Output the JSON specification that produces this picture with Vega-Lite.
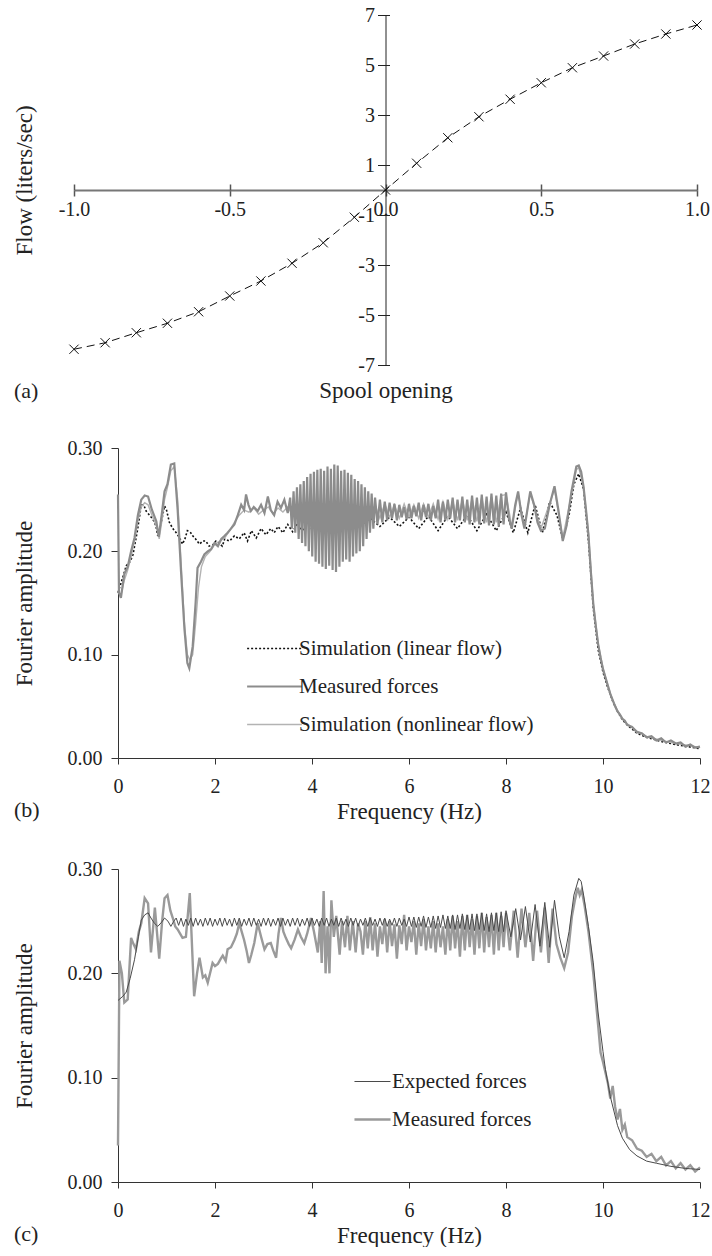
{
"$schema": "https://vega.github.io/schema/vega-lite/v6.json",
"background": "white",
"padding": {"left": 13, "top": 5, "right": 0, "bottom": 0},
"spacing": 36,
"resolve": {"scale": {"color": "independent", "strokeDash": "independent", "strokeWidth": "independent"}, "legend": {"color": "independent", "strokeDash": "independent", "strokeWidth": "independent"}},
"config": {
  "font": "Liberation Serif",
  "view": {"stroke": null},
  "axis": {"labelFont": "Liberation Serif", "titleFont": "Liberation Serif", "labelFontSize": 20, "titleFontSize": 23, "titleFontWeight": "normal", "labelColor": "#222", "titleColor": "#222", "domainColor": "#333", "tickColor": "#333", "grid": false, "labelFlush": false, "labelOverlap": false},
  "legend": {"labelFont": "Liberation Serif", "labelFontSize": 21, "labelColor": "#222", "labelLimit": 400},
  "title": {"font": "Liberation Serif", "fontSize": 22, "fontWeight": "normal", "color": "#222"}
},
"datasets": {
  "a": [{"s":-1,"q":-6.37},{"s":-0.9,"q":-6.11},{"s":-0.8,"q":-5.71},{"s":-0.7,"q":-5.33},{"s":-0.6,"q":-4.87},{"s":-0.5,"q":-4.24},{"s":-0.4,"q":-3.64},{"s":-0.3,"q":-2.93},{"s":-0.2,"q":-2.11},{"s":-0.1,"q":-1.09},{"s":0,"q":0},{"s":0.1,"q":1.07},{"s":0.2,"q":2.09},{"s":0.3,"q":2.93},{"s":0.4,"q":3.63},{"s":0.5,"q":4.29},{"s":0.6,"q":4.89},{"s":0.7,"q":5.36},{"s":0.8,"q":5.84},{"s":0.9,"q":6.24},{"s":1,"q":6.6}],
  "b": [
{"s":"L","f":0,"a":0.16},{"s":"L","f":0.1,"a":0.175},{"s":"L","f":0.17,"a":0.186},{"s":"L","f":0.25,"a":0.19},{"s":"L","f":0.31,"a":0.197},{"s":"L","f":0.4,"a":0.22},{"s":"L","f":0.48,"a":0.245},{"s":"L","f":0.53,"a":0.245},{"s":"L","f":0.58,"a":0.239},{"s":"L","f":0.65,"a":0.235},{"s":"L","f":0.72,"a":0.231},{"s":"L","f":0.78,"a":0.225},{"s":"L","f":0.82,"a":0.215},{"s":"L","f":0.88,"a":0.225},{"s":"L","f":0.96,"a":0.244},{"s":"L","f":1.0,"a":0.24},{"s":"L","f":1.06,"a":0.228},{"s":"L","f":1.13,"a":0.222},{"s":"L","f":1.2,"a":0.218},{"s":"L","f":1.27,"a":0.213},{"s":"L","f":1.33,"a":0.207},{"s":"L","f":1.38,"a":0.212},{"s":"L","f":1.43,"a":0.22},{"s":"L","f":1.5,"a":0.218},{"s":"L","f":1.54,"a":0.215},{"s":"L","f":1.6,"a":0.212},{"s":"L","f":1.68,"a":0.207},{"s":"L","f":1.75,"a":0.21},{"s":"L","f":1.81,"a":0.21},{"s":"L","f":1.88,"a":0.205},{"s":"L","f":1.95,"a":0.206},{"s":"L","f":2.02,"a":0.21},{"s":"L","f":2.08,"a":0.208},{"s":"L","f":2.15,"a":0.205},{"s":"L","f":2.2,"a":0.212},{"s":"L","f":2.3,"a":0.21},{"s":"L","f":2.4,"a":0.215},{"s":"L","f":2.5,"a":0.212},{"s":"L","f":2.6,"a":0.218},{"s":"L","f":2.67,"a":0.21},{"s":"L","f":2.75,"a":0.22},{"s":"L","f":2.85,"a":0.213},{"s":"L","f":2.95,"a":0.222},{"s":"L","f":3.05,"a":0.216},{"s":"L","f":3.15,"a":0.222},{"s":"L","f":3.22,"a":0.218},{"s":"L","f":3.3,"a":0.224},{"s":"L","f":3.4,"a":0.218},{"s":"L","f":3.5,"a":0.226},{"s":"L","f":3.6,"a":0.219},{"s":"L","f":3.7,"a":0.227},{"s":"L","f":3.8,"a":0.22},{"s":"L","f":3.9,"a":0.228},{"s":"L","f":4.0,"a":0.221},{"s":"L","f":4.1,"a":0.229},{"s":"L","f":4.2,"a":0.222},{"s":"L","f":4.3,"a":0.23},{"s":"L","f":4.4,"a":0.222},{"s":"L","f":4.5,"a":0.23},{"s":"L","f":4.6,"a":0.223},{"s":"L","f":4.7,"a":0.231},{"s":"L","f":4.8,"a":0.223},{"s":"L","f":4.9,"a":0.231},{"s":"L","f":5.0,"a":0.224},{"s":"L","f":5.2,"a":0.232},{"s":"L","f":5.4,"a":0.224},{"s":"L","f":5.6,"a":0.233},{"s":"L","f":5.8,"a":0.224},{"s":"L","f":6.0,"a":0.233},{"s":"L","f":6.2,"a":0.222},{"s":"L","f":6.4,"a":0.234},{"s":"L","f":6.6,"a":0.22},{"s":"L","f":6.8,"a":0.234},{"s":"L","f":7.0,"a":0.222},{"s":"L","f":7.2,"a":0.235},{"s":"L","f":7.4,"a":0.22},{"s":"L","f":7.6,"a":0.236},{"s":"L","f":7.8,"a":0.22},{"s":"L","f":8.0,"a":0.238},{"s":"L","f":8.15,"a":0.218},{"s":"L","f":8.3,"a":0.242},{"s":"L","f":8.45,"a":0.218},{"s":"L","f":8.6,"a":0.245},{"s":"L","f":8.75,"a":0.218},{"s":"L","f":8.9,"a":0.248},{"s":"L","f":9.05,"a":0.235},{"s":"L","f":9.17,"a":0.212},{"s":"L","f":9.3,"a":0.235},{"s":"L","f":9.4,"a":0.265},{"s":"L","f":9.5,"a":0.275},{"s":"L","f":9.6,"a":0.26},{"s":"L","f":9.7,"a":0.21},{"s":"L","f":9.8,"a":0.145},{"s":"L","f":9.9,"a":0.105},{"s":"L","f":10.0,"a":0.083},{"s":"L","f":10.1,"a":0.068},{"s":"L","f":10.2,"a":0.055},{"s":"L","f":10.3,"a":0.045},{"s":"L","f":10.4,"a":0.037},{"s":"L","f":10.5,"a":0.032},{"s":"L","f":10.7,"a":0.024},{"s":"L","f":10.9,"a":0.02},{"s":"L","f":11.2,"a":0.016},{"s":"L","f":11.5,"a":0.013},{"s":"L","f":12.0,"a":0.009},
{"s":"N","f":0,"a":0.16},{"s":"N","f":0.06,"a":0.158},{"s":"N","f":0.13,"a":0.172},{"s":"N","f":0.2,"a":0.182},{"s":"N","f":0.27,"a":0.195},{"s":"N","f":0.34,"a":0.21},{"s":"N","f":0.41,"a":0.23},{"s":"N","f":0.48,"a":0.243},{"s":"N","f":0.55,"a":0.247},{"s":"N","f":0.62,"a":0.245},{"s":"N","f":0.7,"a":0.235},{"s":"N","f":0.79,"a":0.225},{"s":"N","f":0.85,"a":0.212},{"s":"N","f":0.9,"a":0.228},{"s":"N","f":0.96,"a":0.25},{"s":"N","f":1.02,"a":0.262},{"s":"N","f":1.09,"a":0.278},{"s":"N","f":1.16,"a":0.282},{"s":"N","f":1.23,"a":0.25},{"s":"N","f":1.3,"a":0.19},{"s":"N","f":1.37,"a":0.13},{"s":"N","f":1.43,"a":0.1},{"s":"N","f":1.48,"a":0.095},{"s":"N","f":1.54,"a":0.1},{"s":"N","f":1.6,"a":0.13},{"s":"N","f":1.66,"a":0.165},{"s":"N","f":1.72,"a":0.185},{"s":"N","f":1.8,"a":0.195},{"s":"N","f":1.9,"a":0.2},{"s":"N","f":2.0,"a":0.207},{"s":"N","f":2.1,"a":0.21},{"s":"N","f":2.2,"a":0.213},{"s":"N","f":2.3,"a":0.22},{"s":"N","f":2.4,"a":0.228},{"s":"N","f":2.5,"a":0.235},{"s":"N","f":2.6,"a":0.24},{"s":"N","f":2.7,"a":0.238},{"s":"N","f":2.8,"a":0.242},{"s":"N","f":2.9,"a":0.236},{"s":"N","f":3.0,"a":0.24},{"s":"N","f":3.1,"a":0.243},{"s":"N","f":3.2,"a":0.236},{"s":"N","f":3.3,"a":0.242},{"s":"N","f":3.4,"a":0.238},{"s":"N","f":3.5,"a":0.243},{"s":"N","f":3.6,"a":0.235},{"s":"N","f":3.7,"a":0.242},{"s":"N","f":3.8,"a":0.236},{"s":"N","f":3.9,"a":0.243},{"s":"N","f":4.0,"a":0.235},{"s":"N","f":4.1,"a":0.24},{"s":"N","f":4.2,"a":0.236},{"s":"N","f":4.3,"a":0.241},{"s":"N","f":4.4,"a":0.234},{"s":"N","f":4.5,"a":0.24},{"s":"N","f":4.6,"a":0.235},{"s":"N","f":4.7,"a":0.242},{"s":"N","f":4.8,"a":0.234},{"s":"N","f":4.9,"a":0.24},{"s":"N","f":5.0,"a":0.236},{"s":"N","f":5.1,"a":0.243},{"s":"N","f":5.2,"a":0.233},{"s":"N","f":5.3,"a":0.245},{"s":"N","f":5.4,"a":0.232},{"s":"N","f":5.5,"a":0.246},{"s":"N","f":5.6,"a":0.233},{"s":"N","f":5.7,"a":0.245},{"s":"N","f":5.8,"a":0.232},{"s":"N","f":5.9,"a":0.246},{"s":"N","f":6.0,"a":0.233},{"s":"N","f":6.1,"a":0.245},{"s":"N","f":6.2,"a":0.232},{"s":"N","f":6.3,"a":0.246},{"s":"N","f":6.4,"a":0.233},{"s":"N","f":6.5,"a":0.246},{"s":"N","f":6.6,"a":0.231},{"s":"N","f":6.7,"a":0.248},{"s":"N","f":6.8,"a":0.231},{"s":"N","f":6.9,"a":0.249},{"s":"N","f":7.0,"a":0.23},{"s":"N","f":7.1,"a":0.25},{"s":"N","f":7.2,"a":0.23},{"s":"N","f":7.3,"a":0.251},{"s":"N","f":7.4,"a":0.229},{"s":"N","f":7.5,"a":0.252},{"s":"N","f":7.6,"a":0.228},{"s":"N","f":7.7,"a":0.253},{"s":"N","f":7.8,"a":0.228},{"s":"N","f":7.9,"a":0.254},{"s":"N","f":8.0,"a":0.255},{"s":"N","f":8.12,"a":0.224},{"s":"N","f":8.25,"a":0.256},{"s":"N","f":8.38,"a":0.224},{"s":"N","f":8.5,"a":0.256},{"s":"N","f":8.72,"a":0.222},{"s":"N","f":9.0,"a":0.26},{"s":"N","f":9.17,"a":0.213},{"s":"N","f":9.35,"a":0.255},{"s":"N","f":9.45,"a":0.279},{"s":"N","f":9.5,"a":0.281},{"s":"N","f":9.6,"a":0.262},{"s":"N","f":9.7,"a":0.218},{"s":"N","f":9.8,"a":0.15},{"s":"N","f":9.9,"a":0.111},{"s":"N","f":10.0,"a":0.087},{"s":"N","f":10.1,"a":0.07},{"s":"N","f":10.2,"a":0.056},{"s":"N","f":10.3,"a":0.046},{"s":"N","f":10.4,"a":0.038},{"s":"N","f":10.5,"a":0.033},{"s":"N","f":10.7,"a":0.026},{"s":"N","f":10.9,"a":0.021},{"s":"N","f":11.2,"a":0.017},{"s":"N","f":11.5,"a":0.014},{"s":"N","f":11.8,"a":0.012},{"s":"N","f":12.0,"a":0.01},
{"s":"M","f":0,"a":0.255},{"s":"M","f":0.02,"a":0.16},{"s":"M","f":0.06,"a":0.155},{"s":"M","f":0.13,"a":0.178},{"s":"M","f":0.2,"a":0.185},{"s":"M","f":0.27,"a":0.2},{"s":"M","f":0.34,"a":0.213},{"s":"M","f":0.41,"a":0.235},{"s":"M","f":0.48,"a":0.25},{"s":"M","f":0.55,"a":0.254},{"s":"M","f":0.62,"a":0.253},{"s":"M","f":0.7,"a":0.24},{"s":"M","f":0.79,"a":0.229},{"s":"M","f":0.84,"a":0.214},{"s":"M","f":0.9,"a":0.235},{"s":"M","f":0.96,"a":0.258},{"s":"M","f":1.02,"a":0.265},{"s":"M","f":1.09,"a":0.284},{"s":"M","f":1.16,"a":0.285},{"s":"M","f":1.23,"a":0.24},{"s":"M","f":1.3,"a":0.18},{"s":"M","f":1.37,"a":0.125},{"s":"M","f":1.43,"a":0.092},{"s":"M","f":1.47,"a":0.087},{"s":"M","f":1.54,"a":0.108},{"s":"M","f":1.6,"a":0.15},{"s":"M","f":1.64,"a":0.184},{"s":"M","f":1.71,"a":0.19},{"s":"M","f":1.78,"a":0.197},{"s":"M","f":1.85,"a":0.2},{"s":"M","f":1.92,"a":0.202},{"s":"M","f":1.99,"a":0.208},{"s":"M","f":2.06,"a":0.205},{"s":"M","f":2.13,"a":0.212},{"s":"M","f":2.2,"a":0.215},{"s":"M","f":2.26,"a":0.218},{"s":"M","f":2.33,"a":0.222},{"s":"M","f":2.4,"a":0.226},{"s":"M","f":2.47,"a":0.235},{"s":"M","f":2.54,"a":0.245},{"s":"M","f":2.6,"a":0.24},{"s":"M","f":2.64,"a":0.255},{"s":"M","f":2.69,"a":0.245},{"s":"M","f":2.74,"a":0.239},{"s":"M","f":2.8,"a":0.243},{"s":"M","f":2.88,"a":0.239},{"s":"M","f":2.95,"a":0.245},{"s":"M","f":3.02,"a":0.237},{"s":"M","f":3.09,"a":0.253},{"s":"M","f":3.15,"a":0.24},{"s":"M","f":3.22,"a":0.235},{"s":"M","f":3.29,"a":0.248},{"s":"M","f":3.36,"a":0.242},{"s":"M","f":3.43,"a":0.25},{"s":"M","f":3.5,"a":0.237},
{"s":"M","f":3.55,"a":0.252},{"s":"M","f":3.585,"a":0.222},{"s":"M","f":3.62,"a":0.258},{"s":"M","f":3.655,"a":0.218},{"s":"M","f":3.69,"a":0.262},{"s":"M","f":3.725,"a":0.212},{"s":"M","f":3.76,"a":0.265},{"s":"M","f":3.795,"a":0.208},{"s":"M","f":3.83,"a":0.268},{"s":"M","f":3.865,"a":0.205},{"s":"M","f":3.9,"a":0.272},{"s":"M","f":3.935,"a":0.2},{"s":"M","f":3.97,"a":0.275},{"s":"M","f":4.005,"a":0.195},{"s":"M","f":4.04,"a":0.277},{"s":"M","f":4.075,"a":0.19},{"s":"M","f":4.11,"a":0.279},{"s":"M","f":4.145,"a":0.188},{"s":"M","f":4.18,"a":0.28},{"s":"M","f":4.215,"a":0.185},{"s":"M","f":4.25,"a":0.278},{"s":"M","f":4.285,"a":0.183},{"s":"M","f":4.32,"a":0.282},{"s":"M","f":4.355,"a":0.186},{"s":"M","f":4.39,"a":0.28},{"s":"M","f":4.425,"a":0.182},{"s":"M","f":4.46,"a":0.284},{"s":"M","f":4.495,"a":0.18},{"s":"M","f":4.53,"a":0.283},{"s":"M","f":4.565,"a":0.185},{"s":"M","f":4.6,"a":0.278},{"s":"M","f":4.635,"a":0.19},{"s":"M","f":4.67,"a":0.279},{"s":"M","f":4.705,"a":0.192},{"s":"M","f":4.74,"a":0.276},{"s":"M","f":4.775,"a":0.19},{"s":"M","f":4.81,"a":0.274},{"s":"M","f":4.845,"a":0.195},{"s":"M","f":4.88,"a":0.27},{"s":"M","f":4.915,"a":0.198},{"s":"M","f":4.95,"a":0.268},{"s":"M","f":4.985,"a":0.2},{"s":"M","f":5.02,"a":0.265},{"s":"M","f":5.055,"a":0.205},{"s":"M","f":5.09,"a":0.262},{"s":"M","f":5.125,"a":0.212},{"s":"M","f":5.16,"a":0.258},{"s":"M","f":5.195,"a":0.218},{"s":"M","f":5.23,"a":0.256},{"s":"M","f":5.265,"a":0.222},{"s":"M","f":5.3,"a":0.252},
{"s":"M","f":5.35,"a":0.226},{"s":"M","f":5.4,"a":0.25},{"s":"M","f":5.45,"a":0.228},{"s":"M","f":5.5,"a":0.248},{"s":"M","f":5.55,"a":0.23},{"s":"M","f":5.6,"a":0.247},{"s":"M","f":5.65,"a":0.232},{"s":"M","f":5.7,"a":0.246},{"s":"M","f":5.75,"a":0.23},{"s":"M","f":5.8,"a":0.245},{"s":"M","f":5.85,"a":0.233},{"s":"M","f":5.9,"a":0.243},{"s":"M","f":5.95,"a":0.231},{"s":"M","f":6.0,"a":0.246},{"s":"M","f":6.05,"a":0.232},{"s":"M","f":6.1,"a":0.244},{"s":"M","f":6.15,"a":0.234},{"s":"M","f":6.2,"a":0.247},{"s":"M","f":6.25,"a":0.23},{"s":"M","f":6.3,"a":0.245},{"s":"M","f":6.35,"a":0.233},{"s":"M","f":6.4,"a":0.246},{"s":"M","f":6.45,"a":0.23},{"s":"M","f":6.5,"a":0.244},{"s":"M","f":6.55,"a":0.232},{"s":"M","f":6.6,"a":0.25},{"s":"M","f":6.65,"a":0.228},{"s":"M","f":6.7,"a":0.248},{"s":"M","f":6.75,"a":0.23},{"s":"M","f":6.8,"a":0.25},{"s":"M","f":6.85,"a":0.232},{"s":"M","f":6.9,"a":0.252},{"s":"M","f":6.95,"a":0.228},{"s":"M","f":7.0,"a":0.25},{"s":"M","f":7.05,"a":0.23},{"s":"M","f":7.1,"a":0.253},{"s":"M","f":7.15,"a":0.228},{"s":"M","f":7.2,"a":0.25},{"s":"M","f":7.25,"a":0.226},{"s":"M","f":7.3,"a":0.254},{"s":"M","f":7.35,"a":0.228},{"s":"M","f":7.4,"a":0.252},{"s":"M","f":7.45,"a":0.226},{"s":"M","f":7.5,"a":0.255},{"s":"M","f":7.55,"a":0.227},{"s":"M","f":7.6,"a":0.253},{"s":"M","f":7.65,"a":0.225},{"s":"M","f":7.7,"a":0.256},{"s":"M","f":7.75,"a":0.226},{"s":"M","f":7.8,"a":0.254},{"s":"M","f":7.85,"a":0.224},{"s":"M","f":7.9,"a":0.256},{"s":"M","f":7.95,"a":0.226},{"s":"M","f":8.0,"a":0.257},{"s":"M","f":8.06,"a":0.232},{"s":"M","f":8.12,"a":0.222},{"s":"M","f":8.19,"a":0.245},{"s":"M","f":8.25,"a":0.258},{"s":"M","f":8.32,"a":0.235},{"s":"M","f":8.38,"a":0.222},{"s":"M","f":8.44,"a":0.24},{"s":"M","f":8.5,"a":0.258},{"s":"M","f":8.58,"a":0.245},{"s":"M","f":8.65,"a":0.228},{"s":"M","f":8.72,"a":0.22},{"s":"M","f":8.8,"a":0.222},{"s":"M","f":8.9,"a":0.245},{"s":"M","f":9.0,"a":0.263},{"s":"M","f":9.08,"a":0.24},{"s":"M","f":9.17,"a":0.21},{"s":"M","f":9.25,"a":0.225},{"s":"M","f":9.35,"a":0.258},{"s":"M","f":9.45,"a":0.282},{"s":"M","f":9.5,"a":0.283},{"s":"M","f":9.55,"a":0.277},{"s":"M","f":9.6,"a":0.262},{"s":"M","f":9.65,"a":0.24},{"s":"M","f":9.7,"a":0.216},{"s":"M","f":9.75,"a":0.18},{"s":"M","f":9.8,"a":0.149},{"s":"M","f":9.85,"a":0.128},{"s":"M","f":9.9,"a":0.11},{"s":"M","f":9.95,"a":0.097},{"s":"M","f":10.0,"a":0.086},{"s":"M","f":10.05,"a":0.078},{"s":"M","f":10.1,"a":0.07},{"s":"M","f":10.15,"a":0.062},{"s":"M","f":10.2,"a":0.056},{"s":"M","f":10.25,"a":0.05},{"s":"M","f":10.3,"a":0.045},{"s":"M","f":10.35,"a":0.042},{"s":"M","f":10.4,"a":0.038},{"s":"M","f":10.45,"a":0.036},{"s":"M","f":10.5,"a":0.032},{"s":"M","f":10.6,"a":0.03},{"s":"M","f":10.7,"a":0.025},{"s":"M","f":10.8,"a":0.024},{"s":"M","f":10.9,"a":0.02},{"s":"M","f":11.0,"a":0.021},{"s":"M","f":11.1,"a":0.017},{"s":"M","f":11.2,"a":0.019},{"s":"M","f":11.3,"a":0.015},{"s":"M","f":11.4,"a":0.017},{"s":"M","f":11.5,"a":0.014},{"s":"M","f":11.6,"a":0.015},{"s":"M","f":11.7,"a":0.011},{"s":"M","f":11.8,"a":0.013},{"s":"M","f":11.9,"a":0.01},{"s":"M","f":12.0,"a":0.011}
  ],
  "c": [
{"s":"E","f":0,"a":0.174},{"s":"E","f":0.1,"a":0.178},{"s":"E","f":0.17,"a":0.182},{"s":"E","f":0.25,"a":0.195},{"s":"E","f":0.34,"a":0.213},{"s":"E","f":0.42,"a":0.235},{"s":"E","f":0.48,"a":0.251},{"s":"E","f":0.55,"a":0.256},{"s":"E","f":0.62,"a":0.258},{"s":"E","f":0.68,"a":0.253},{"s":"E","f":0.75,"a":0.248},{"s":"E","f":0.82,"a":0.245},{"s":"E","f":0.9,"a":0.249},{"s":"E","f":0.96,"a":0.253},{"s":"E","f":1.03,"a":0.25},{"s":"E","f":1.09,"a":0.245},{"s":"E","f":1.15,"a":0.25},
{"s":"E","f":1.2,"a":0.253},{"s":"E","f":1.25,"a":0.246},{"s":"E","f":1.3,"a":0.253},{"s":"E","f":1.35,"a":0.245},{"s":"E","f":1.4,"a":0.252},{"s":"E","f":1.45,"a":0.246},{"s":"E","f":1.5,"a":0.253},{"s":"E","f":1.55,"a":0.245},{"s":"E","f":1.6,"a":0.253},{"s":"E","f":1.65,"a":0.246},{"s":"E","f":1.7,"a":0.252},{"s":"E","f":1.75,"a":0.245},{"s":"E","f":1.8,"a":0.253},{"s":"E","f":1.85,"a":0.246},{"s":"E","f":1.9,"a":0.253},{"s":"E","f":1.95,"a":0.245},{"s":"E","f":2.0,"a":0.252},{"s":"E","f":2.05,"a":0.246},{"s":"E","f":2.1,"a":0.253},{"s":"E","f":2.15,"a":0.245},{"s":"E","f":2.2,"a":0.253},{"s":"E","f":2.25,"a":0.246},{"s":"E","f":2.3,"a":0.252},{"s":"E","f":2.35,"a":0.245},{"s":"E","f":2.4,"a":0.253},{"s":"E","f":2.45,"a":0.246},{"s":"E","f":2.5,"a":0.253},{"s":"E","f":2.55,"a":0.245},{"s":"E","f":2.6,"a":0.252},{"s":"E","f":2.65,"a":0.246},{"s":"E","f":2.7,"a":0.253},{"s":"E","f":2.75,"a":0.245},{"s":"E","f":2.8,"a":0.253},{"s":"E","f":2.85,"a":0.246},{"s":"E","f":2.9,"a":0.252},{"s":"E","f":2.95,"a":0.245},{"s":"E","f":3.0,"a":0.253},{"s":"E","f":3.05,"a":0.246},{"s":"E","f":3.1,"a":0.253},{"s":"E","f":3.15,"a":0.245},{"s":"E","f":3.2,"a":0.252},{"s":"E","f":3.25,"a":0.246},{"s":"E","f":3.3,"a":0.253},{"s":"E","f":3.35,"a":0.245},{"s":"E","f":3.4,"a":0.253},{"s":"E","f":3.45,"a":0.246},{"s":"E","f":3.5,"a":0.252},{"s":"E","f":3.55,"a":0.245},{"s":"E","f":3.6,"a":0.253},{"s":"E","f":3.65,"a":0.246},{"s":"E","f":3.7,"a":0.253},{"s":"E","f":3.75,"a":0.245},{"s":"E","f":3.8,"a":0.252},{"s":"E","f":3.85,"a":0.246},{"s":"E","f":3.9,"a":0.253},{"s":"E","f":3.95,"a":0.245},{"s":"E","f":4.0,"a":0.253},{"s":"E","f":4.05,"a":0.246},{"s":"E","f":4.1,"a":0.252},{"s":"E","f":4.15,"a":0.245},{"s":"E","f":4.2,"a":0.253},{"s":"E","f":4.25,"a":0.246},{"s":"E","f":4.3,"a":0.253},{"s":"E","f":4.35,"a":0.245},{"s":"E","f":4.4,"a":0.252},{"s":"E","f":4.45,"a":0.246},{"s":"E","f":4.5,"a":0.253},{"s":"E","f":4.55,"a":0.245},{"s":"E","f":4.6,"a":0.253},{"s":"E","f":4.65,"a":0.246},{"s":"E","f":4.7,"a":0.252},{"s":"E","f":4.75,"a":0.245},{"s":"E","f":4.8,"a":0.253},{"s":"E","f":4.85,"a":0.246},{"s":"E","f":4.9,"a":0.253},{"s":"E","f":4.95,"a":0.245},{"s":"E","f":5.0,"a":0.252},{"s":"E","f":5.05,"a":0.246},{"s":"E","f":5.1,"a":0.253},{"s":"E","f":5.15,"a":0.245},{"s":"E","f":5.2,"a":0.253},{"s":"E","f":5.25,"a":0.246},{"s":"E","f":5.3,"a":0.252},{"s":"E","f":5.35,"a":0.245},{"s":"E","f":5.4,"a":0.253},{"s":"E","f":5.45,"a":0.246},{"s":"E","f":5.5,"a":0.253},{"s":"E","f":5.55,"a":0.245},{"s":"E","f":5.6,"a":0.252},{"s":"E","f":5.65,"a":0.246},{"s":"E","f":5.7,"a":0.253},{"s":"E","f":5.75,"a":0.245},{"s":"E","f":5.8,"a":0.253},{"s":"E","f":5.85,"a":0.246},{"s":"E","f":5.9,"a":0.252},{"s":"E","f":5.95,"a":0.245},{"s":"E","f":6.0,"a":0.254},{"s":"E","f":6.05,"a":0.245},{"s":"E","f":6.1,"a":0.254},{"s":"E","f":6.15,"a":0.244},{"s":"E","f":6.2,"a":0.254},{"s":"E","f":6.25,"a":0.245},{"s":"E","f":6.3,"a":0.255},{"s":"E","f":6.35,"a":0.244},{"s":"E","f":6.4,"a":0.254},{"s":"E","f":6.45,"a":0.244},{"s":"E","f":6.5,"a":0.255},{"s":"E","f":6.55,"a":0.243},{"s":"E","f":6.6,"a":0.255},{"s":"E","f":6.65,"a":0.244},{"s":"E","f":6.7,"a":0.256},{"s":"E","f":6.75,"a":0.243},{"s":"E","f":6.8,"a":0.255},{"s":"E","f":6.85,"a":0.243},{"s":"E","f":6.9,"a":0.256},{"s":"E","f":6.95,"a":0.242},{"s":"E","f":7.0,"a":0.256},{"s":"E","f":7.05,"a":0.243},{"s":"E","f":7.1,"a":0.257},{"s":"E","f":7.15,"a":0.242},{"s":"E","f":7.2,"a":0.256},{"s":"E","f":7.25,"a":0.242},{"s":"E","f":7.3,"a":0.257},{"s":"E","f":7.35,"a":0.241},{"s":"E","f":7.4,"a":0.257},{"s":"E","f":7.45,"a":0.242},{"s":"E","f":7.5,"a":0.258},{"s":"E","f":7.55,"a":0.241},{"s":"E","f":7.6,"a":0.257},{"s":"E","f":7.65,"a":0.24},{"s":"E","f":7.7,"a":0.258},{"s":"E","f":7.75,"a":0.241},{"s":"E","f":7.8,"a":0.258},{"s":"E","f":7.85,"a":0.24},{"s":"E","f":7.9,"a":0.259},{"s":"E","f":7.95,"a":0.24},{"s":"E","f":8.0,"a":0.26},{"s":"E","f":8.1,"a":0.235},{"s":"E","f":8.2,"a":0.262},{"s":"E","f":8.3,"a":0.232},{"s":"E","f":8.4,"a":0.264},{"s":"E","f":8.5,"a":0.23},{"s":"E","f":8.6,"a":0.266},{"s":"E","f":8.7,"a":0.226},{"s":"E","f":8.8,"a":0.268},{"s":"E","f":8.9,"a":0.225},{"s":"E","f":9.0,"a":0.27},{"s":"E","f":9.1,"a":0.235},{"s":"E","f":9.2,"a":0.215},{"s":"E","f":9.3,"a":0.24},{"s":"E","f":9.4,"a":0.275},{"s":"E","f":9.5,"a":0.291},{"s":"E","f":9.55,"a":0.288},{"s":"E","f":9.6,"a":0.275},{"s":"E","f":9.7,"a":0.245},{"s":"E","f":9.8,"a":0.21},{"s":"E","f":9.9,"a":0.162},{"s":"E","f":10.0,"a":0.125},{"s":"E","f":10.05,"a":0.108},{"s":"E","f":10.15,"a":0.082},{"s":"E","f":10.3,"a":0.054},{"s":"E","f":10.4,"a":0.042},{"s":"E","f":10.55,"a":0.031},{"s":"E","f":10.7,"a":0.025},{"s":"E","f":10.9,"a":0.02},{"s":"E","f":11.1,"a":0.018},{"s":"E","f":11.4,"a":0.015},{"s":"E","f":11.7,"a":0.013},{"s":"E","f":12.0,"a":0.012},
{"s":"M","f":0,"a":0.035},{"s":"M","f":0.03,"a":0.212},{"s":"M","f":0.08,"a":0.2},{"s":"M","f":0.13,"a":0.172},{"s":"M","f":0.2,"a":0.175},{"s":"M","f":0.27,"a":0.234},{"s":"M","f":0.32,"a":0.228},{"s":"M","f":0.37,"a":0.223},{"s":"M","f":0.43,"a":0.24},{"s":"M","f":0.48,"a":0.248},{"s":"M","f":0.55,"a":0.272},{"s":"M","f":0.62,"a":0.267},{"s":"M","f":0.68,"a":0.22},{"s":"M","f":0.76,"a":0.263},{"s":"M","f":0.85,"a":0.214},{"s":"M","f":0.91,"a":0.25},{"s":"M","f":0.96,"a":0.272},{"s":"M","f":1.02,"a":0.275},{"s":"M","f":1.08,"a":0.26},{"s":"M","f":1.13,"a":0.253},{"s":"M","f":1.18,"a":0.245},{"s":"M","f":1.23,"a":0.242},{"s":"M","f":1.28,"a":0.238},{"s":"M","f":1.33,"a":0.234},{"s":"M","f":1.4,"a":0.235},{"s":"M","f":1.48,"a":0.277},{"s":"M","f":1.57,"a":0.178},{"s":"M","f":1.63,"a":0.2},{"s":"M","f":1.68,"a":0.215},{"s":"M","f":1.75,"a":0.196},{"s":"M","f":1.8,"a":0.198},{"s":"M","f":1.85,"a":0.191},{"s":"M","f":1.95,"a":0.21},{"s":"M","f":2.0,"a":0.207},{"s":"M","f":2.06,"a":0.209},{"s":"M","f":2.12,"a":0.214},{"s":"M","f":2.16,"a":0.217},{"s":"M","f":2.22,"a":0.212},{"s":"M","f":2.26,"a":0.223},{"s":"M","f":2.33,"a":0.225},{"s":"M","f":2.4,"a":0.232},{"s":"M","f":2.45,"a":0.238},{"s":"M","f":2.5,"a":0.248},{"s":"M","f":2.55,"a":0.24},{"s":"M","f":2.6,"a":0.232},{"s":"M","f":2.65,"a":0.222},{"s":"M","f":2.7,"a":0.21},{"s":"M","f":2.75,"a":0.218},{"s":"M","f":2.81,"a":0.229},{"s":"M","f":2.88,"a":0.248},{"s":"M","f":2.95,"a":0.235},{"s":"M","f":3.02,"a":0.223},{"s":"M","f":3.08,"a":0.228},{"s":"M","f":3.15,"a":0.229},{"s":"M","f":3.2,"a":0.222},{"s":"M","f":3.26,"a":0.215},{"s":"M","f":3.31,"a":0.238},{"s":"M","f":3.36,"a":0.253},{"s":"M","f":3.41,"a":0.24},{"s":"M","f":3.46,"a":0.234},{"s":"M","f":3.52,"a":0.228},{"s":"M","f":3.57,"a":0.224},{"s":"M","f":3.64,"a":0.232},{"s":"M","f":3.71,"a":0.242},{"s":"M","f":3.77,"a":0.235},{"s":"M","f":3.84,"a":0.229},{"s":"M","f":3.9,"a":0.238},{"s":"M","f":3.98,"a":0.253},{"s":"M","f":4.04,"a":0.24},{"s":"M","f":4.12,"a":0.22},{"s":"M","f":4.17,"a":0.25},{"s":"M","f":4.2,"a":0.21},{"s":"M","f":4.24,"a":0.279},{"s":"M","f":4.28,"a":0.2},{"s":"M","f":4.32,"a":0.245},{"s":"M","f":4.36,"a":0.2},{"s":"M","f":4.4,"a":0.27},{"s":"M","f":4.45,"a":0.235},{"s":"M","f":4.5,"a":0.255},{"s":"M","f":4.57,"a":0.218},{"s":"M","f":4.62,"a":0.25},{"s":"M","f":4.68,"a":0.225},{"s":"M","f":4.73,"a":0.255},{"s":"M","f":4.78,"a":0.222},{"s":"M","f":4.84,"a":0.25},{"s":"M","f":4.9,"a":0.22},{"s":"M","f":4.95,"a":0.248},{"s":"M","f":5.0,"a":0.24},{"s":"M","f":5.05,"a":0.218},{"s":"M","f":5.1,"a":0.25},{"s":"M","f":5.15,"a":0.224},{"s":"M","f":5.2,"a":0.254},{"s":"M","f":5.25,"a":0.222},{"s":"M","f":5.3,"a":0.248},{"s":"M","f":5.35,"a":0.216},{"s":"M","f":5.4,"a":0.245},{"s":"M","f":5.45,"a":0.228},{"s":"M","f":5.5,"a":0.252},{"s":"M","f":5.55,"a":0.22},{"s":"M","f":5.6,"a":0.25},{"s":"M","f":5.65,"a":0.226},{"s":"M","f":5.7,"a":0.247},{"s":"M","f":5.75,"a":0.214},{"s":"M","f":5.8,"a":0.246},{"s":"M","f":5.85,"a":0.228},{"s":"M","f":5.9,"a":0.256},{"s":"M","f":5.95,"a":0.222},{"s":"M","f":6.0,"a":0.245},{"s":"M","f":6.05,"a":0.23},{"s":"M","f":6.1,"a":0.25},{"s":"M","f":6.15,"a":0.218},{"s":"M","f":6.2,"a":0.248},{"s":"M","f":6.25,"a":0.226},{"s":"M","f":6.3,"a":0.252},{"s":"M","f":6.35,"a":0.222},{"s":"M","f":6.4,"a":0.245},{"s":"M","f":6.45,"a":0.224},{"s":"M","f":6.5,"a":0.25},{"s":"M","f":6.55,"a":0.22},{"s":"M","f":6.6,"a":0.248},{"s":"M","f":6.65,"a":0.225},{"s":"M","f":6.7,"a":0.245},{"s":"M","f":6.75,"a":0.218},{"s":"M","f":6.8,"a":0.252},{"s":"M","f":6.85,"a":0.222},{"s":"M","f":6.9,"a":0.255},{"s":"M","f":6.95,"a":0.224},{"s":"M","f":7.0,"a":0.25},{"s":"M","f":7.05,"a":0.216},{"s":"M","f":7.1,"a":0.255},{"s":"M","f":7.15,"a":0.222},{"s":"M","f":7.2,"a":0.256},{"s":"M","f":7.25,"a":0.225},{"s":"M","f":7.3,"a":0.252},{"s":"M","f":7.35,"a":0.218},{"s":"M","f":7.4,"a":0.255},{"s":"M","f":7.45,"a":0.224},{"s":"M","f":7.5,"a":0.258},{"s":"M","f":7.55,"a":0.22},{"s":"M","f":7.6,"a":0.254},{"s":"M","f":7.65,"a":0.225},{"s":"M","f":7.7,"a":0.256},{"s":"M","f":7.75,"a":0.218},{"s":"M","f":7.8,"a":0.258},{"s":"M","f":7.85,"a":0.222},{"s":"M","f":7.9,"a":0.255},{"s":"M","f":7.95,"a":0.225},{"s":"M","f":8.0,"a":0.258},{"s":"M","f":8.08,"a":0.222},{"s":"M","f":8.16,"a":0.26},{"s":"M","f":8.24,"a":0.215},{"s":"M","f":8.32,"a":0.262},{"s":"M","f":8.4,"a":0.225},{"s":"M","f":8.48,"a":0.258},{"s":"M","f":8.56,"a":0.212},{"s":"M","f":8.64,"a":0.26},{"s":"M","f":8.72,"a":0.22},{"s":"M","f":8.8,"a":0.263},{"s":"M","f":8.88,"a":0.21},{"s":"M","f":8.96,"a":0.262},{"s":"M","f":9.04,"a":0.228},{"s":"M","f":9.12,"a":0.215},{"s":"M","f":9.2,"a":0.205},{"s":"M","f":9.28,"a":0.22},{"s":"M","f":9.36,"a":0.255},{"s":"M","f":9.42,"a":0.27},{"s":"M","f":9.48,"a":0.282},{"s":"M","f":9.52,"a":0.275},{"s":"M","f":9.56,"a":0.28},{"s":"M","f":9.62,"a":0.265},{"s":"M","f":9.7,"a":0.24},{"s":"M","f":9.8,"a":0.2},{"s":"M","f":9.9,"a":0.15},{"s":"M","f":9.95,"a":0.124},{"s":"M","f":10.0,"a":0.115},{"s":"M","f":10.05,"a":0.105},{"s":"M","f":10.1,"a":0.095},{"s":"M","f":10.15,"a":0.08},{"s":"M","f":10.2,"a":0.092},{"s":"M","f":10.25,"a":0.072},{"s":"M","f":10.3,"a":0.06},{"s":"M","f":10.35,"a":0.07},{"s":"M","f":10.4,"a":0.05},{"s":"M","f":10.45,"a":0.055},{"s":"M","f":10.5,"a":0.043},{"s":"M","f":10.6,"a":0.04},{"s":"M","f":10.7,"a":0.032},{"s":"M","f":10.8,"a":0.03},{"s":"M","f":10.9,"a":0.024},{"s":"M","f":11.0,"a":0.027},{"s":"M","f":11.1,"a":0.02},{"s":"M","f":11.2,"a":0.024},{"s":"M","f":11.3,"a":0.016},{"s":"M","f":11.4,"a":0.02},{"s":"M","f":11.5,"a":0.013},{"s":"M","f":11.6,"a":0.018},{"s":"M","f":11.7,"a":0.012},{"s":"M","f":11.8,"a":0.016},{"s":"M","f":11.9,"a":0.01},{"s":"M","f":12.0,"a":0.014}
  ]
},
"vconcat": [
  {
    "width": 579, "height": 350,
    "data": {"name": "a"},
    "title": {"text": "(a)", "orient": "bottom", "anchor": "start", "frame": "group", "dx": -104, "offset": -21, "baseline": "top"},
    "layer": [
      {"mark": {"type": "line", "color": "#111", "strokeWidth": 1, "strokeDash": [8, 5]},
       "encoding": {
         "x": {"field": "s", "type": "quantitative", "scale": {"domain": [-1, 1], "range": [-44, 579], "nice": false, "zero": false},
               "axis": {"orient": "bottom", "offset": -175, "values": [-1, -0.5, 0, 0.5, 1], "tickSize": 6, "labelPadding": 3, "labelExpr": "(datum.value < 0 ? '-' : '') + format(abs(datum.value), '.1f')", "domainColor": "#777", "domainWidth": 2, "tickColor": "#555", "tickWidth": 1.5, "title": "Spool opening", "titleX": 267.5, "titleY": 189}},
         "y": {"field": "q", "type": "quantitative", "scale": {"domain": [-7, 7], "nice": false, "zero": false},
               "axis": {"orient": "left", "offset": -267.5, "values": [-7, -5, -3, -1, 1, 3, 5, 7], "tickSize": 8, "labelPadding": 3, "labelExpr": "(datum.value < 0 ? '-' : '') + abs(datum.value)", "domainColor": "#222", "tickColor": "#222", "title": "Flow (liters/sec)", "titleX": -349.5, "titleY": 165}}
       }},
      {"mark": {"type": "point", "shape": "M-1,-1L1,1M1,-1L-1,1", "filled": false, "color": "#111", "size": 85, "strokeWidth": 1, "opacity": 1},
       "encoding": {
         "x": {"field": "s", "type": "quantitative", "axis": {"orient": "top", "offset": -175, "values": [-1, -0.5, 0, 0.5, 1], "tickSize": 6, "labels": false, "domain": false, "title": null, "tickColor": "#555", "tickWidth": 1.5}},
         "y": {"field": "q", "type": "quantitative", "axis": {"orient": "right", "offset": -311.5, "values": [-7, -5, -3, -1, 1, 3, 5, 7], "tickSize": 4, "labels": false, "domain": false, "title": null, "tickColor": "#222"}}
       }}
    ],
    "resolve": {"axis": {"x": "independent", "y": "independent"}}
  },
  {
    "width": 582, "height": 310,
    "data": {"name": "b"},
    "title": {"text": "(b)", "orient": "bottom", "anchor": "start", "frame": "group", "dx": -104, "offset": -23, "baseline": "top"},
    "encoding": {
      "x": {"field": "f", "type": "quantitative", "scale": {"domain": [0, 12], "nice": false}, "axis": {"values": [0, 2, 4, 6, 8, 10, 12], "tickSize": 6, "labelPadding": 12, "title": "Frequency (Hz)", "titlePadding": 4}},
      "y": {"field": "a", "type": "quantitative", "scale": {"domain": [0, 0.3], "nice": false}, "axis": {"values": [0, 0.1, 0.2, 0.3], "format": ".2f", "tickSize": 7, "labelPadding": 9, "title": "Fourier amplitude", "titleX": -82}},
      "color": {"field": "s", "type": "nominal", "scale": {"domain": ["L", "M", "N"], "range": ["#111111", "#8c8c8c", "#b3b3b3"]},
        "legend": {"title": null, "orient": "none", "legendX": 146, "legendY": 190, "symbolType": "stroke", "symbolSize": 3000, "rowPadding": 16, "labelOffset": 14, "padding": 0,
          "labelExpr": "datum.label == 'L' ? 'Simulation (linear flow)' : datum.label == 'M' ? 'Measured forces' : 'Simulation (nonlinear flow)'",
          "encode": {"symbols": {"update": {"strokeDash": {"signal": "datum.value == 'L' ? [2, 2] : [1, 0]"}, "strokeWidth": {"signal": "datum.value == 'M' ? 2.2 : datum.value == 'L' ? 1.6 : 1.4"}}}}}}
    },
    "layer": [
      {"transform": [{"filter": "datum.s == 'L'"}], "mark": {"type": "line", "strokeDash": [2, 2], "strokeWidth": 1.6}},
      {"transform": [{"filter": "datum.s == 'N'"}], "mark": {"type": "line", "strokeWidth": 1.4}},
      {"transform": [{"filter": "datum.s == 'M'"}], "mark": {"type": "line", "strokeWidth": 2.2}}
    ]
  },
  {
    "width": 582, "height": 313,
    "data": {"name": "c"},
    "title": {"text": "(c)", "orient": "bottom", "anchor": "start", "frame": "group", "dx": -104, "offset": -23, "baseline": "top"},
    "encoding": {
      "x": {"field": "f", "type": "quantitative", "scale": {"domain": [0, 12], "nice": false}, "axis": {"values": [0, 2, 4, 6, 8, 10, 12], "tickSize": 6, "labelPadding": 12, "title": "Frequency (Hz)", "titlePadding": 4}},
      "y": {"field": "a", "type": "quantitative", "scale": {"domain": [0, 0.3], "nice": false}, "axis": {"values": [0, 0.1, 0.2, 0.3], "format": ".2f", "tickSize": 7, "labelPadding": 9, "title": "Fourier amplitude", "titleX": -82}},
      "color": {"field": "s", "type": "nominal", "scale": {"domain": ["E", "M"], "range": ["#4a4a4a", "#9a9a9a"]},
        "legend": {"title": null, "orient": "none", "legendX": 244, "legendY": 202, "symbolType": "stroke", "symbolSize": 1300, "rowPadding": 16, "labelOffset": 9, "padding": 0,
          "labelExpr": "datum.label == 'E' ? 'Expected forces' : 'Measured forces'",
          "encode": {"symbols": {"update": {"strokeWidth": {"signal": "datum.value == 'M' ? 2.4 : 1"}}}}}}
    },
    "layer": [
      {"transform": [{"filter": "datum.s == 'M'"}], "mark": {"type": "line", "strokeWidth": 2.4}},
      {"transform": [{"filter": "datum.s == 'E'"}], "mark": {"type": "line", "strokeWidth": 1}}
    ]
  }
]
}
